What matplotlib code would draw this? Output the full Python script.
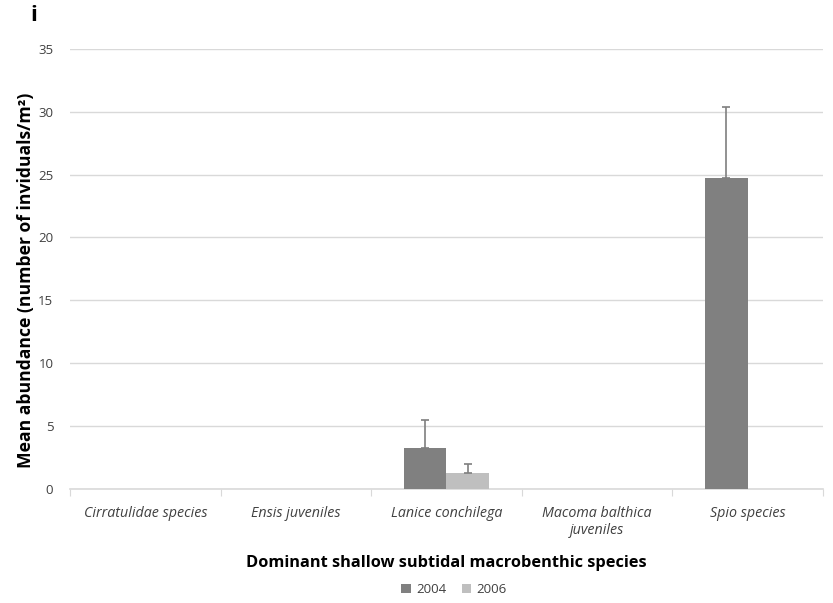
import numpy as np
import matplotlib
matplotlib.use('Agg')
import matplotlib.pyplot as plt

plt.rcParams['font.family'] = ['Open Sans', 'DejaVu Sans']

# data
species = ['Cirratulidae species', 'Ensis juveniles', 'Lanice conchilega',
           'Macoma balthica\njuveniles', 'Spio species']
mean_2004 = [0, 0, 3.3, 0, 24.7]
err_2004 = [0, 0, 2.2, 0, 5.7]
mean_2006 = [0, 0, 1.3, 0, 0]
err_2006 = [0, 0, 0.7, 0, 0]
years = ['2004', '2006']

fig = plt.figure(figsize=(8.33, 6.03), dpi=100)
ax = fig.add_axes([0.084, 0.189, 0.904, 0.73])

x = np.arange(len(species))
w = 0.285
errcol = '#7f7f7f'

def draw(xpos, vals, errs, color, label):
    ax.bar(xpos, vals, w, color=color, label=label, zorder=3)
    for xi, v, e in zip(xpos, vals, errs):
        if e > 0:
            ax.errorbar(xi, v, yerr=[[0], [e]], fmt='none', ecolor=errcol,
                        elinewidth=1.2, capsize=3, capthick=1.2, zorder=4)

draw(x - w / 2, mean_2004, err_2004, '#808080', years[0])
draw(x + w / 2, mean_2006, err_2006, '#bfbfbf', years[1])

ax.set_xlim(-0.5, len(species) - 0.5)
ax.set_ylim(0, 35)
ax.set_yticks(range(0, 36, 5))
ax.yaxis.grid(True, color='#d9d9d9', linewidth=1, zorder=0)
ax.set_axisbelow(True)
for s in ['top', 'right', 'left']:
    ax.spines[s].set_visible(False)
ax.spines['bottom'].set_color('#d9d9d9')
ax.spines['bottom'].set_linewidth(1.2)
ax.tick_params(axis='y', length=0, labelsize=9.5, labelcolor='#404040', pad=12)
ax.set_xticks(np.arange(-0.5, len(species), 1), minor=False)
ax.set_xticklabels([])
ax.set_xticks(x, minor=True)
ax.set_xticklabels(species, minor=True, fontsize=10.3, style='italic', color='#404040')
ax.tick_params(axis='x', which='major', length=5, color='#d9d9d9', direction='out')
ax.tick_params(axis='x', which='minor', length=0, pad=12)

ax.set_xlabel('Dominant shallow subtidal macrobenthic species', fontsize=11.8,
              fontweight='bold', labelpad=12)
ax.set_ylabel('Mean abundance (number of inviduals/m²)', fontsize=12.6,
              fontweight='bold')
ax.yaxis.set_label_coords(-0.047, 0.475)

fig.text(0.04, 0.975, 'i', fontsize=16, fontweight='bold', va='center', ha='center')

leg = fig.legend(loc='center', bbox_to_anchor=(0.545, 0.022), ncol=2, frameon=False,
                 fontsize=9.5, handlelength=0.7, handleheight=0.7, handletextpad=0.4,
                 columnspacing=1.2)
for t in leg.get_texts():
    t.set_color('#404040')

fig.savefig('out.png', dpi=100)
